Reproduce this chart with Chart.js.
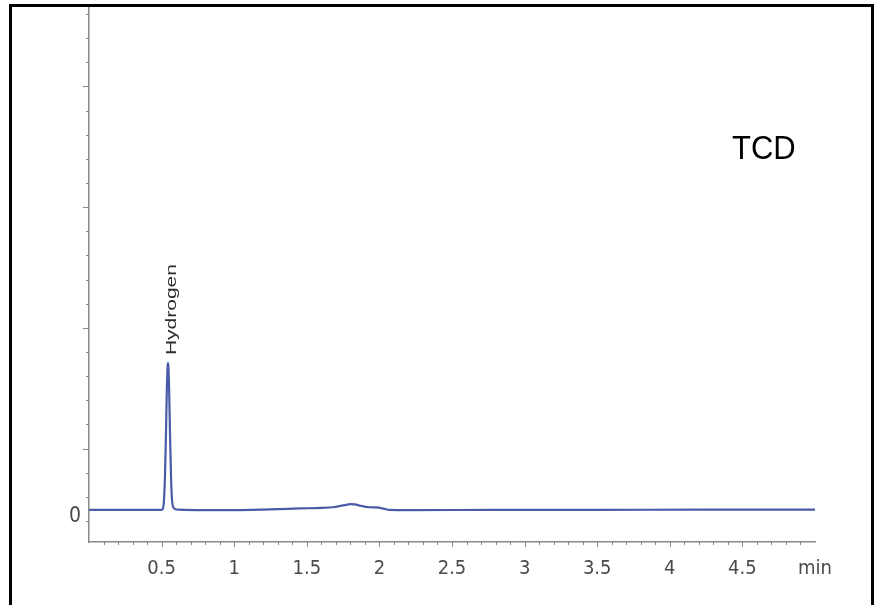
<!DOCTYPE html>
<html>
<head>
<meta charset="utf-8">
<title>TCD chromatogram</title>
<script src="https://cdn.jsdelivr.net/npm/chart.js"></script>
<style>
    html, body { margin: 0; padding: 0; background: #fff; overflow: hidden; }
    #wrap { position: relative; width: 877px; height: 605px; }
    #wrap canvas { position: absolute; left: 0; top: 0; }
    /* outer black frame, bottom edge runs off the picture */
    #frame { position: absolute; left: 9px; top: 4px; width: 859px; height: 700px; border: 3px solid #000; pointer-events: none; }
</style>
</head>
<body>
<div id="wrap">
    <canvas id="tcdChart" width="877" height="605"></canvas>
    <div id="frame"></div>
</div>
<script>
// ==================== DATA ====================
// retention time (min) and detector signal (arbitrary units, one unit per y tick)
const times  = [0, 0.2, 0.4, 0.48, 0.505, 0.515, 0.523, 0.530, 0.536, 0.541, 0.544, 0.547, 0.552, 0.558, 0.565, 0.572, 0.580, 0.592, 0.62,
                0.8, 1.0, 1.2, 1.31, 1.45, 1.6, 1.68, 1.73, 1.77, 1.80, 1.83, 1.87, 1.93, 1.98, 2.03, 2.07, 2.2, 2.8, 3.5, 4.2, 5.0];
const signal = [0.46, 0.46, 0.46, 0.46, 0.47, 0.75, 1.8, 3.6, 5.4, 6.4, 6.54, 6.4, 5.4, 3.6, 1.8, 0.85, 0.58, 0.50, 0.47,
                0.45, 0.45, 0.47, 0.49, 0.52, 0.54, 0.57, 0.62, 0.67, 0.70, 0.69, 0.63, 0.57, 0.56, 0.51, 0.46, 0.45, 0.46, 0.46, 0.47, 0.47];

const peakNames   = ['Hydrogen'];
const peakTimes   = [0.544];
const peakHeights = [6.54];

const xTickValues = [0.5, 1, 1.5, 2, 2.5, 3, 3.5, 4, 4.5, 5];
const xTickLabels = ['0.5', '1', '1.5', '2', '2.5', '3', '3.5', '4', '4.5', 'min'];
const yTickValues = [0];
const yTickLabels = ['0'];

const detectorName = 'TCD';

const LINE_COLOR = '#4b5ba7';
const AXIS_COLOR = '#8a8a8a';
const TEXT_COLOR = '#4a4a4a';
const NARROW = "'Liberation Sans Narrow', 'DejaVu Sans Condensed', 'Liberation Sans', Arial, sans-serif";

// ==================== PLUGIN: ticks, peak labels, detector ====================
const chromPlugin = {
    id: 'chromDecor',
    afterDraw(chart) {
        const ctx = chart.ctx;
        const xs = chart.scales.x, ys = chart.scales.y;
        const area = chart.chartArea;

        ctx.save();
        ctx.strokeStyle = AXIS_COLOR;
        ctx.lineWidth = 1;

        // y ticks: short every unit, longer every fifth
        ys.ticks.forEach(t => {
            const v = Math.round(t.value);
            const len = ((v - 3) % 5 === 0) ? 6 : 3;
            const py = Math.round(ys.getPixelForValue(v)) + 0.5;
            ctx.beginPath();
            ctx.moveTo(area.left - len, py);
            ctx.lineTo(area.left, py);
            ctx.stroke();
        });

        // x ticks: every 0.1 min, slightly longer at each half minute
        xs.ticks.forEach(t => {
            const k = Math.round(t.value * 10);
            if (k <= 0 || k >= 50) return;
            const len = (k % 5 === 0) ? 5 : 3;
            const px = Math.round(xs.getPixelForValue(t.value)) + 0.5;
            ctx.beginPath();
            ctx.moveTo(px, area.bottom);
            ctx.lineTo(px, area.bottom + len);
            ctx.stroke();
        });

        // peak names, written vertically above each peak
        ctx.fillStyle = '#2e2e2e';
        ctx.font = "14px 'Liberation Sans', Arial, sans-serif";
        ctx.textAlign = 'left';
        ctx.textBaseline = 'middle';
        peakNames.forEach((name, i) => {
            const px = xs.getPixelForValue(peakTimes[i]) + 4;
            const py = ys.getPixelForValue(peakHeights[i]) - 8;
            ctx.save();
            ctx.translate(px, py);
            ctx.rotate(-Math.PI / 2);
            ctx.scale(1.5, 1);
            ctx.fillText(name, 0, 0);
            ctx.restore();
        });

        // detector name
        ctx.fillStyle = '#000';
        ctx.font = "31px 'Liberation Sans', Arial, sans-serif";
        ctx.textBaseline = 'alphabetic';
        ctx.translate(732, 159);
        ctx.scale(1, 1.08);
        ctx.fillText(detectorName, 0, 0);
        ctx.restore();
    }
};

// ==================== CHART ====================
const ctx = document.getElementById('tcdChart').getContext('2d');
new Chart(ctx, {
    type: 'line',
    data: {
        datasets: [{
            label: detectorName,
            data: times.map((t, i) => ({ x: t, y: signal[i] })),
            borderColor: LINE_COLOR,
            borderWidth: 2.2,
            pointRadius: 0,
            fill: false,
            cubicInterpolationMode: 'monotone',
        }]
    },
    options: {
        responsive: false,
        animation: false,
        devicePixelRatio: 1,
        layout: { padding: { top: 5, right: 62, left: 0, bottom: 0 } },
        plugins: {
            legend: { display: false },
            tooltip: { enabled: false },
        },
        scales: {
            x: {
                type: 'linear',
                min: 0, max: 5,
                grid: { display: false, drawTicks: false },
                border: { display: true, color: AXIS_COLOR, width: 1.5 },
                ticks: {
                    stepSize: 0.1,
                    autoSkip: false,
                    maxRotation: 0,
                    padding: 15,
                    color: TEXT_COLOR,
                    font: { family: NARROW, size: 20 },
                    callback: (v) => {
                        const i = xTickValues.findIndex(x => Math.abs(x - v) < 1e-6);
                        return i >= 0 ? xTickLabels[i] : '';
                    }
                },
                afterFit: (scale) => {
                    scale.height = 63;
                    scale.paddingLeft = 0;
                    scale.paddingRight = 0;
                }
            },
            y: {
                min: -0.87, max: 21.37,
                grid: { display: false, drawTicks: false },
                border: { display: true, color: AXIS_COLOR, width: 1.5 },
                ticks: {
                    stepSize: 1,
                    includeBounds: false,
                    autoSkip: false,
                    padding: 8,
                    labelOffset: -4,
                    color: TEXT_COLOR,
                    font: { family: NARROW, size: 21 },
                    callback: (v) => {
                        const i = yTickValues.findIndex(y => Math.abs(y - v) < 1e-6);
                        return i >= 0 ? yTickLabels[i] : '';
                    }
                },
                afterFit: (scale) => {
                    scale.width = 89;
                    scale.paddingTop = 0;
                    scale.paddingBottom = 0;
                }
            }
        }
    },
    plugins: [chromPlugin]
});
</script>
</body>
</html>
